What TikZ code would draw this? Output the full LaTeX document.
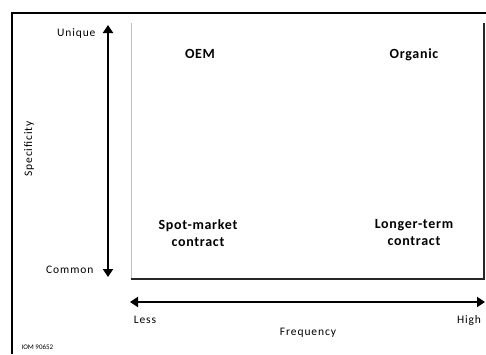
\documentclass[tikz,border=0pt]{standalone}
\usepackage{fontspec}
\setmainfont{Carlito}
\usepackage{tikz}
\usetikzlibrary{arrows.meta}

\begin{document}
\begin{tikzpicture}[x=1pt,y=-1pt,
    axis/.style={line width=2pt,{Triangle[length=8pt,width=10pt]}-{Triangle[length=8pt,width=10pt]}},
    quad/.style={font=\bfseries\fontsize{14}{17}\selectfont\addfontfeature{LetterSpace=5},align=center},
    tick/.style={font=\fontsize{11.5}{13}\selectfont\addfontfeature{LetterSpace=8}}]
    \useasboundingbox (0,0) rectangle (486,354);
    \draw[line width=2pt] (12,354) -- (12,13) -- (486,13);
    \draw[gray!50,line width=1pt] (131,23) -- (131,279);
    \draw[black!85,line width=1.4pt] (131,279) -- (484,279) -- (484,23);
    \coordinate (Vtop) at (108,25);
    \coordinate (Vbot) at (108,277);
    \coordinate (Hleft) at (130,302);
    \coordinate (Hright) at (485,302);
    \draw[axis] (Vtop) -- (Vbot);
    \draw[axis] (Hleft) -- (Hright);
    \node[tick,anchor=east] (U) at (99,33) {Unique};
    \node[tick,anchor=east] (C) at (97,270) {Common};
    \node[tick,rotate=90] (S) at (29,149) {Specificity};
    \node[tick] (L) at (145,320) {Less};
    \node[tick] (H) at (469,320) {High};
    \node[tick] (F) at (308,333) {Frequency};
    \node[quad] (OEM) at (200,54) {OEM};
    \node[quad] (ORG) at (414,55) {Organic};
    \node[quad] (SPOT) at (198,233) {Spot-market\\contract};
    \node[quad] (LONG) at (414,233) {Longer-term\\contract};
    \node[font=\fontsize{7}{8}\selectfont,anchor=west] (ID) at (18,347) {IOM 90652};
\end{tikzpicture}
\end{document}
